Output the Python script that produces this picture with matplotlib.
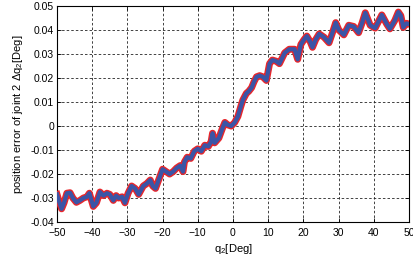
import matplotlib.pyplot as plt
from matplotlib.ticker import FuncFormatter

# joint angle q2 [deg] and position error of joint 2 [deg]
q2 = [-50, -49.5, -48.7, -48, -47.2, -46.3, -45.5, -44.5, -43.5, -42.5,
      -41.5, -40.8, -39.7, -38.8, -37.8, -36.8, -35.8, -35, -34, -33.2,
      -32.5, -31.5, -30.7, -29.8, -28.8, -27.8, -26.8, -25.5, -24.5, -23.5,
      -22.8, -22, -21, -20, -19, -18, -17, -16, -15, -14.2,
      -13.8, -13, -12, -11, -10, -9, -8, -7, -6.2, -5.8,
      -5.2, -4, -3, -2.3, -1.5, -0.5, 0.5, 1.4, 2.2, 2.8,
      3.8, 4.5, 5.3, 6.0, 6.7, 7.6, 8.5, 9.5, 10.4, 11.2,
      12.3, 13.2, 14.7, 16, 17.5, 18.4, 19.3, 20.2, 21, 22,
      22.6, 23.5, 24.5, 25.9, 27.3, 28.3, 29.2, 30.1, 31.5, 32.9,
      34.3, 35.7, 36.7, 37.6, 39, 40.4, 41.5, 42.3, 43.7, 44.6,
      46, 47, 47.7, 48.4, 49.3, 50]
dq2 = [-0.0285, -0.031, -0.0345, -0.032, -0.028, -0.0278, -0.030, -0.0318, -0.031, -0.030,
       -0.0295, -0.028, -0.0335, -0.032, -0.0275, -0.029, -0.028, -0.0285, -0.031, -0.029,
       -0.030, -0.0295, -0.032, -0.028, -0.025, -0.026, -0.0285, -0.025, -0.024, -0.0225,
       -0.025, -0.026, -0.022, -0.018, -0.019, -0.020, -0.019, -0.0175, -0.0165, -0.019,
       -0.015, -0.013, -0.0135, -0.0105, -0.0095, -0.0105, -0.008, -0.0085, -0.0065, -0.003,
       -0.007, -0.005, -0.001, 0.0015, 0.0005, 0.0, 0.0015, 0.004, 0.008, 0.0108,
       0.0136, 0.0145, 0.016, 0.0185, 0.0205, 0.021, 0.0205, 0.019, 0.026, 0.0275,
       0.027, 0.026, 0.0305, 0.032, 0.032, 0.0278, 0.034, 0.036, 0.0375, 0.035,
       0.0328, 0.036, 0.0384, 0.037, 0.0347, 0.039, 0.0431, 0.040, 0.038, 0.042,
       0.0415, 0.0389, 0.043, 0.0472, 0.042, 0.0408, 0.044, 0.0463, 0.0425, 0.0405,
       0.044, 0.0475, 0.046, 0.0411, 0.0428, 0.0425]

xticks = [-50, -40, -30, -20, -10, 0, 10, 20, 30, 40, 50]
yticks = [-0.04, -0.03, -0.02, -0.01, 0, 0.01, 0.02, 0.03, 0.04, 0.05]

plt.rcParams['font.family'] = ['Liberation Sans', 'DejaVu Sans']
plt.rcParams['mathtext.default'] = 'regular'

fig = plt.figure(figsize=(4.14, 2.58), dpi=100)
ax = fig.add_axes([0.1377, 0.1395, 0.850, 0.837])

# thick red trace with the blue one on top
ax.plot(q2, dq2, color='#e8262b', lw=5, solid_joinstyle='round', zorder=3)
ax.plot(q2, dq2, color='#3b55a6', lw=3, solid_joinstyle='round', zorder=4)

ax.set_xlim(-50, 50)
ax.set_ylim(-0.04, 0.05)
ax.set_xticks(xticks)
ax.set_yticks(yticks)
ax.yaxis.set_major_formatter(FuncFormatter(lambda v, p: '%g' % round(v, 3)))
ax.tick_params(direction='in', top=True, right=True, length=3, width=0.6,
               labelsize=7.5)
ax.tick_params(axis='x', pad=4)
ax.tick_params(axis='y', pad=2)
ax.grid(True, color='#222222', linestyle=(0, (3, 2.5)), lw=0.6)
for s in ax.spines.values():
    s.set_linewidth(0.8)

ax.set_xlabel('q$_2$[Deg]', fontsize=8, labelpad=3)
ax.set_ylabel('position error of joint 2 $\\Delta$q$_2$[Deg]', fontsize=8, labelpad=4)

fig.savefig('out.png', dpi=100)
